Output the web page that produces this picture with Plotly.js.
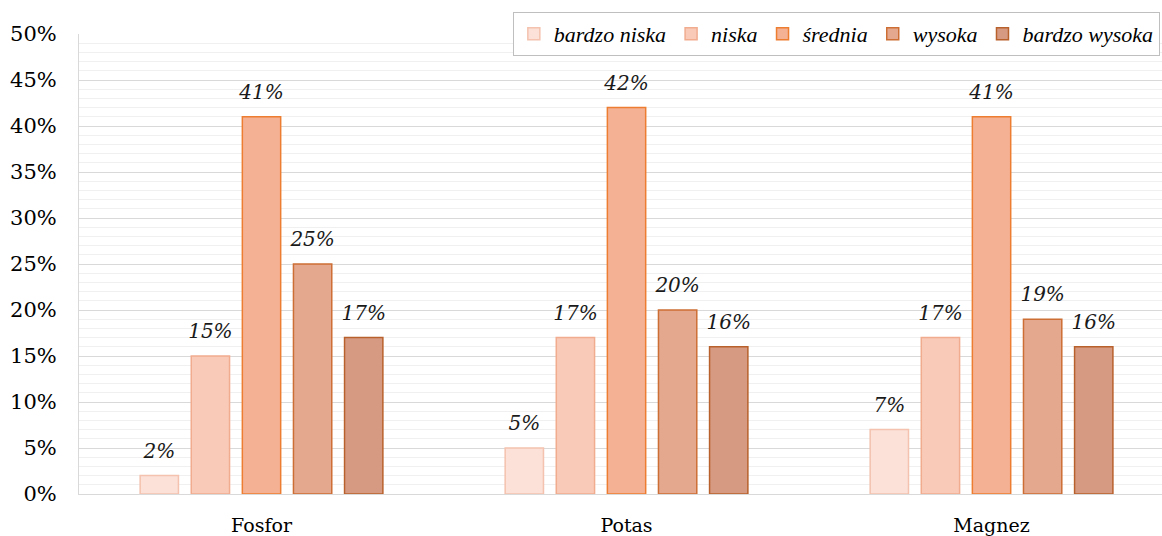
<!DOCTYPE html>
<html><head><meta charset="utf-8">
<script src="https://cdn.plot.ly/plotly-3.0.1.min.js"></script>
<style>body{margin:0;background:#fff}#c{width:1162px;height:536px}</style>
</head><body><div id="c"></div>
<script>
const categories = ["Fosfor", "Potas", "Magnez"];
const seriesNames = ["bardzo niska", "niska", "średnia", "wysoka", "bardzo wysoka"];
const bardzoNiska = [0.02, 0.05, 0.07];
const niska = [0.15, 0.17, 0.17];
const srednia = [0.41, 0.42, 0.41];
const wysoka = [0.25, 0.20, 0.19];
const bardzoWysoka = [0.17, 0.16, 0.16];
const yTicks = [0, 0.05, 0.10, 0.15, 0.20, 0.25, 0.30, 0.35, 0.40, 0.45, 0.50];
const yTickLabels = ["0%", "5%", "10%", "15%", "20%", "25%", "30%", "35%", "40%", "45%", "50%"];

const values = [bardzoNiska, niska, srednia, wysoka, bardzoWysoka];
const fills = ["#fbe1d7", "#f8cab7", "#f5b193", "#e4a88f", "#d69a83"];
const lines = ["#f4c2ae", "#f1ac90", "#ed7d31", "#cd6e35", "#b9612c"];
const font = "'DejaVu Serif', serif";
const legendFont = "'Liberation Serif', serif";

const bars = values.map((v, i) => ({
  type: "bar",
  name: seriesNames[i],
  x: categories,
  y: v,
  marker: {color: fills[i], line: {color: lines[i], width: 1.5}},
  hoverinfo: "skip"
}));
const labels = values.map((v, i) => ({
  type: "scatter",
  mode: "markers+text",
  showlegend: false,
  x: categories,
  y: v,
  marker: {size: 19, color: "rgba(0,0,0,0)"},
  text: v.map(d => Math.round(d * 100) + "%"),
  textposition: "top center",
  cliponaxis: false,
  textfont: {family: font, size: 20, color: "#1a1a1a", style: "italic"},
  hoverinfo: "skip"
}));

const layout = {
  width: 1162, height: 536,
  margin: {l: 79, r: 0, t: 34, b: 42},
  paper_bgcolor: "#fff", plot_bgcolor: "#fff",
  barmode: "group", bargap: 0.3, bargroupgap: 0.25,
  scattermode: "group", scattergap: 0.3,
  showlegend: true,
  legend: {
    orientation: "h", x: 0.998, xanchor: "right", y: 1.048, yanchor: "top",
    bgcolor: "#fff", bordercolor: "#bfbfbf", borderwidth: 1,
    font: {family: legendFont, size: 22, color: "#000", style: "italic"},
    itemwidth: 30, tracegroupgap: 0, traceorder: "normal"
  },
  xaxis: {
    range: [-0.5, 2.467],
    tickfont: {family: font, size: 19, color: "#000"},
    showline: true, linecolor: "#d9d9d9", linewidth: 1,
    ticks: "", showgrid: false, ticklabelstandoff: 14
  },
  yaxis: {
    range: [0, 0.5], tickvals: yTicks, ticktext: yTickLabels,
    tickfont: {family: font, size: 21, color: "#000"},
    showgrid: true, gridcolor: "#d9d9d9", gridwidth: 1,
    minor: {dtick: 0.01, showgrid: true, gridcolor: "#f0f0f0", gridwidth: 1},
    showline: true, linecolor: "#d9d9d9", linewidth: 1,
    zeroline: false, ticks: "", ticklen: 0, ticklabelstandoff: 17
  }
};
Plotly.newPlot("c", bars.concat(labels), layout, {displayModeBar: false, staticPlot: true});
</script></body></html>
